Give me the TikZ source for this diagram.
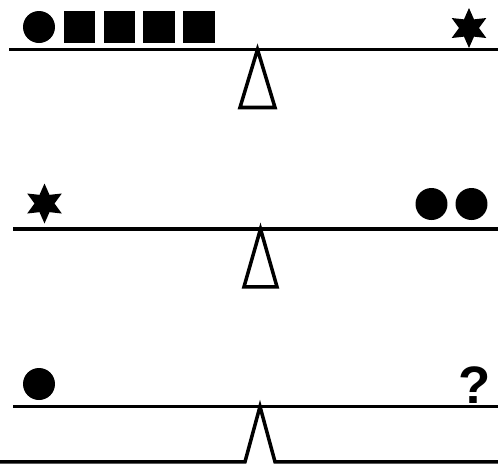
\documentclass[tikz,border=0pt]{standalone}
\usepackage{fontspec}
\newfontfamily\qfont{Liberation Sans}
\usetikzlibrary{shapes.geometric}

\tikzset{
    beam/.style={black,line width=2pt},
    ball/.style={circle,fill=black,inner sep=0pt,minimum size=0.64cm},
    brick/.style={rectangle,fill=black,inner sep=0pt,minimum size=0.63cm},
    spark/.style={star,star points=6,star point ratio=2,fill=black,inner sep=0pt,minimum size=0.8cm}
}

\begin{document}
\begin{tikzpicture}[x=0.02cm,y=-0.02cm]
    \useasboundingbox (0,0) rectangle (498,464);

    % first scale
    \draw[beam] (9.5,49.5) -- (498,49.5);
    \draw[beam] (257.5,49.5) -- (275,107.5) -- (240,107.5) -- cycle;
    \node[ball] (b1) at (39,27) {};
    \node[brick] (s1) at (79.5,27) {};
    \node[brick] (s2) at (119.5,27) {};
    \node[brick] (s3) at (159,27) {};
    \node[brick] (s4) at (199,27) {};
    \node[spark] (t1) at (469,28) {};

    % second scale
    \draw[beam] (13,229) -- (498,229);
    \draw[beam] (260.5,229) -- (277,286.8) -- (244,286.8) -- cycle;
    \node[spark] (t2) at (44.5,203.5) {};
    \node[ball] (b2) at (431.5,204) {};
    \node[ball] (b3) at (471.5,204) {};

    % third scale
    \draw[beam] (13,406.5) -- (498,406.5);
    \draw[beam] (0,461.8) -- (245,461.8) -- (260,406.5) -- (275,461.8) -- (498,461.8);
    \node[ball] (b4) at (39,384) {};
    \node[inner sep=0pt,anchor=base] (q) at (475,403) {\qfont\bfseries\fontsize{30}{30}\selectfont ?};
\end{tikzpicture}
\end{document}
